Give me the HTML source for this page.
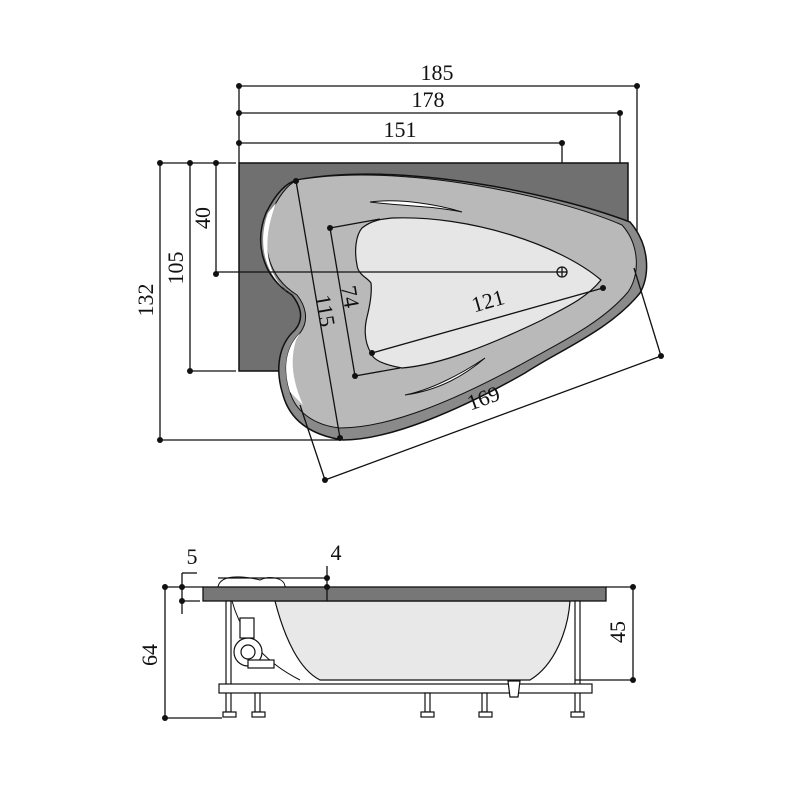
<!DOCTYPE html>
<html><head><meta charset="utf-8"><style>body{margin:0;background:#fff}svg{display:block}text{font-family:"Liberation Serif",serif;font-size:22px;fill:#111}</style></head><body>
<svg width="800" height="800" viewBox="0 0 800 800">
<g stroke="#111" stroke-width="1.3" fill="none">
<line x1="239" y1="86" x2="637" y2="86"/><line x1="239" y1="113" x2="620" y2="113"/><line x1="239" y1="143" x2="562" y2="143"/>
<line x1="239" y1="86" x2="239" y2="163"/><line x1="637" y1="86" x2="637" y2="250"/><line x1="620" y1="113" x2="620" y2="163"/><line x1="562" y1="143" x2="562" y2="272"/>
<line x1="160" y1="163" x2="160" y2="440"/><line x1="190" y1="163" x2="190" y2="371"/><line x1="216" y1="163" x2="216" y2="274"/>
<line x1="160" y1="163" x2="236" y2="163"/><line x1="190" y1="371" x2="236" y2="371"/><line x1="160" y1="440" x2="340" y2="440"/>
</g>
<path d="M239,163 L628,163 L628,235 L560,330 L285,371 L239,371 Z" fill="#707070" stroke="#111" stroke-width="1.5"/>
<path d="M297,180 C400,160 560,195 630,222 C650,245 650,275 640,293 C610,330 560,350 525,373 C460,410 390,440 343,440 C310,435 290,420 283,395 C275,370 278,345 295,330 C305,318 300,305 292,295 C260,275 255,240 266,213 C275,195 285,183 297,180 Z" fill="#8a8a8a" stroke="#111" stroke-width="1.5"/>
<path d="M297,180 C400,162 555,196 622,225 C640,245 640,275 628,292 C600,325 555,345 520,365 C455,400 390,428 340,428 C312,425 295,410 290,392 C283,370 285,348 300,333 C310,320 305,305 297,295 C265,275 262,240 270,215 C278,197 287,185 297,180 Z" fill="#b9b9b9" stroke="#111" stroke-width="1"/>
<path d="M268,213 C258,240 262,275 292,295 L285,290 C265,270 262,240 276,203 Z" fill="#fff"/>
<path d="M290,392 C283,370 285,348 300,333 L296,340 C290,360 292,380 303,405 Z" fill="#fff"/>
<path d="M370,202 C400,198 440,205 462,212 C435,206 400,206 370,202 Z" fill="#fff" stroke="#111"/>
<path d="M405,395 C430,390 460,375 485,358 C465,375 440,390 405,395 Z" fill="#fff" stroke="#111"/>
<path d="M392,218 C470,215 560,245 601,280 C585,300 560,310 542,320 C490,345 440,365 402,368 C385,365 373,360 371,353 C363,340 365,325 367,317 C370,305 372,292 371,283 C368,278 358,275 357,265 C354,250 356,235 362,228 C372,220 382,219 392,218 Z" fill="#e6e6e6" stroke="#111" stroke-width="1.2"/>
<g stroke="#111" stroke-width="1.3" fill="none">
<line x1="216" y1="272" x2="557" y2="272"/>
<circle cx="562" cy="272" r="5"/><line x1="557" y1="272" x2="567" y2="272"/><line x1="562" y1="267" x2="562" y2="277"/>
<line x1="296" y1="181" x2="340" y2="438"/>
<line x1="330" y1="228" x2="355" y2="376"/><line x1="330" y1="228" x2="380" y2="219"/><line x1="355" y1="376" x2="400" y2="368"/>
<line x1="372" y1="353" x2="603" y2="288"/>
<line x1="325" y1="480" x2="661" y2="356"/><line x1="325" y1="480" x2="300" y2="405"/><line x1="661" y1="356" x2="634" y2="268"/>
</g>
<g fill="#111">
<circle cx="239" cy="86" r="3"/><circle cx="637" cy="86" r="3"/><circle cx="239" cy="113" r="3"/><circle cx="620" cy="113" r="3"/><circle cx="239" cy="143" r="3"/><circle cx="562" cy="143" r="3"/>
<circle cx="160" cy="163" r="3"/><circle cx="190" cy="163" r="3"/><circle cx="216" cy="163" r="3"/><circle cx="216" cy="274" r="3"/><circle cx="190" cy="371" r="3"/><circle cx="160" cy="440" r="3"/>
<circle cx="296" cy="181" r="3"/><circle cx="340" cy="438" r="3"/><circle cx="330" cy="228" r="3"/><circle cx="355" cy="376" r="3"/><circle cx="372" cy="353" r="3"/><circle cx="603" cy="288" r="3"/><circle cx="325" cy="480" r="3"/><circle cx="661" cy="356" r="3"/>
</g>
<text x="437" y="80" text-anchor="middle">185</text><text x="428" y="107" text-anchor="middle">178</text><text x="400" y="137" text-anchor="middle">151</text>
<text transform="translate(153,300) rotate(-90)" text-anchor="middle">132</text>
<text transform="translate(183,268) rotate(-90)" text-anchor="middle">105</text>
<text transform="translate(210,218) rotate(-90)" text-anchor="middle">40</text>
<text transform="translate(318,312) rotate(80)" text-anchor="middle">115</text>
<text transform="translate(343,298) rotate(80)" text-anchor="middle">74</text>
<text transform="translate(490,308) rotate(-16)" text-anchor="middle">121</text>
<text transform="translate(486,405) rotate(-20)" text-anchor="middle">169</text>
<path d="M275,601 C285,640 300,670 320,680 L530,680 C555,665 568,630 570,601 Z" fill="#e8e8e8" stroke="#111" stroke-width="1.2"/>
<path d="M232,601 C240,630 260,660 300,680" stroke="#111" fill="none"/>
<path d="M218,587 C220,575 240,575 260,580 C270,575 285,578 285,587 Z" fill="#fff" stroke="#111"/>
<rect x="203" y="587" width="403" height="14" fill="#777" stroke="#111" stroke-width="1.3"/>
<g stroke="#111" stroke-width="1.2" fill="#fff">
<rect x="226" y="601" width="5" height="111"/><rect x="575" y="601" width="5" height="111"/>
<rect x="219" y="684" width="373" height="9"/>
<rect x="255" y="693" width="5" height="19"/><rect x="425" y="693" width="5" height="19"/><rect x="482" y="693" width="5" height="19"/>
<rect x="223" y="712" width="13" height="5"/><rect x="252" y="712" width="13" height="5"/><rect x="421" y="712" width="13" height="5"/><rect x="479" y="712" width="13" height="5"/><rect x="571" y="712" width="13" height="5"/>
<path d="M508,681 L520,681 L518,697 L510,697 Z"/>
<circle cx="248" cy="652" r="14"/><circle cx="248" cy="652" r="7"/><rect x="240" y="618" width="14" height="20"/><rect x="248" y="660" width="26" height="8"/>
</g>
<g stroke="#111" stroke-width="1.3" fill="none">
<line x1="327" y1="566" x2="327" y2="601"/><line x1="218" y1="578" x2="327" y2="578"/>
<line x1="182" y1="573" x2="182" y2="614"/><line x1="182" y1="573" x2="197" y2="573"/><line x1="182" y1="601" x2="200" y2="601"/>
<line x1="165" y1="587" x2="203" y2="587"/><line x1="165" y1="587" x2="165" y2="718"/><line x1="165" y1="718" x2="222" y2="718"/>
<line x1="606" y1="587" x2="633" y2="587"/><line x1="633" y1="587" x2="633" y2="680"/><line x1="575" y1="680" x2="633" y2="680"/>
</g>
<g fill="#111"><circle cx="327" cy="578" r="3"/><circle cx="327" cy="587" r="3"/><circle cx="182" cy="587" r="3"/><circle cx="182" cy="601" r="3"/><circle cx="165" cy="587" r="3"/><circle cx="165" cy="718" r="3"/><circle cx="633" cy="587" r="3"/><circle cx="633" cy="680" r="3"/></g>
<text x="336" y="560" text-anchor="middle">4</text><text x="192" y="564" text-anchor="middle">5</text>
<text transform="translate(157,655) rotate(-90)" text-anchor="middle">64</text>
<text transform="translate(625,632) rotate(-90)" text-anchor="middle">45</text>
</svg>
</body></html>
